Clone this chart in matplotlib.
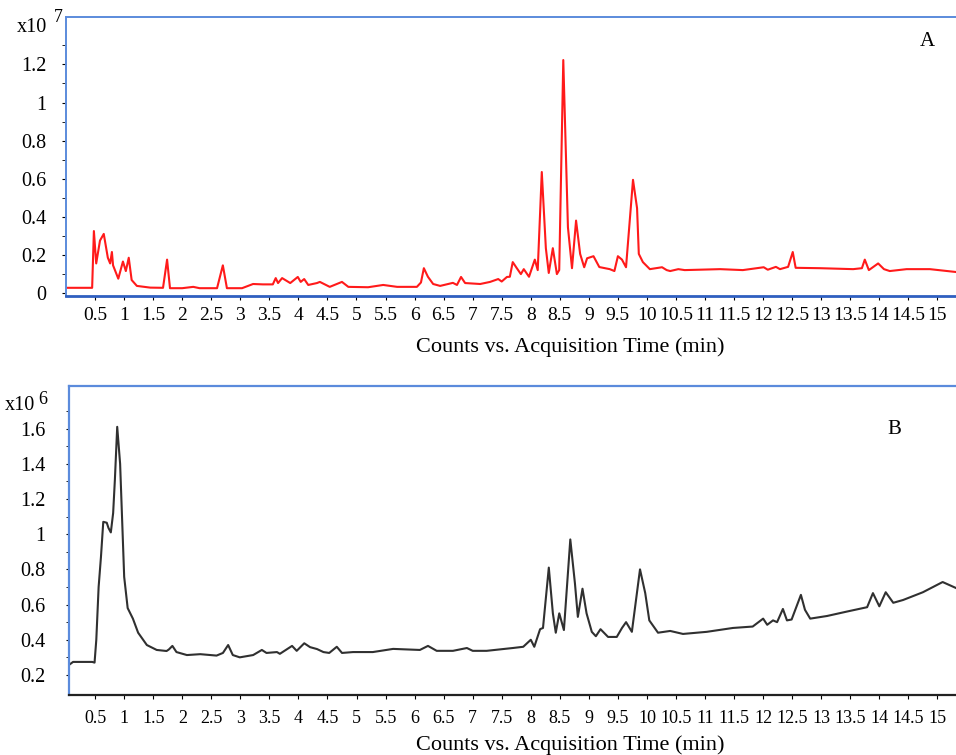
import matplotlib.pyplot as plt
import matplotlib.ticker as mticker
import numpy as np

plt.rcParams['font.family'] = ['Liberation Serif', 'DejaVu Serif']

# trace A (counts x10^7)
time_a = [0.02, 0.45, 0.48, 0.52, 0.585, 0.65, 0.72, 0.76, 0.79, 0.81, 0.90, 0.98, 1.03, 1.08, 1.13, 1.22,
          1.45, 1.67, 1.74, 1.79, 2.0, 2.19, 2.30, 2.6, 2.70, 2.77, 3.03, 3.22, 3.39, 3.56, 3.61, 3.65,
          3.72, 3.86, 3.99, 4.04, 4.10, 4.17, 4.32, 4.37, 4.54, 4.75, 4.86, 5.2, 5.46, 5.7, 6.04, 6.11,
          6.16, 6.23, 6.32, 6.44, 6.66, 6.73, 6.80, 6.87, 7.13, 7.30, 7.44, 7.50, 7.59, 7.64, 7.69, 7.76,
          7.83, 7.88, 7.97, 8.07, 8.12, 8.19, 8.26, 8.31, 8.38, 8.45, 8.49, 8.56, 8.64, 8.71, 8.78, 8.85,
          8.92, 8.97, 9.08, 9.18, 9.36, 9.44, 9.50, 9.57, 9.64, 9.76, 9.83, 9.86, 9.93, 10.05, 10.26, 10.34,
          10.40, 10.54, 10.65, 11.26, 11.65, 12.01, 12.08, 12.22, 12.29, 12.43, 12.51, 12.56, 12.98, 13.55,
          13.70, 13.75, 13.82, 13.98, 14.08, 14.18, 14.47, 14.87, 15.32]
counts_a = [0.027, 0.027, 0.325, 0.155, 0.275, 0.31, 0.185, 0.155, 0.215, 0.145, 0.075, 0.165, 0.115, 0.185, 0.068, 0.037,
            0.028, 0.027, 0.175, 0.025, 0.025, 0.032, 0.025, 0.025, 0.145, 0.025, 0.025, 0.047, 0.045, 0.045, 0.078, 0.052,
            0.078, 0.052, 0.084, 0.058, 0.073, 0.042, 0.052, 0.058, 0.032, 0.058, 0.032, 0.030, 0.042, 0.032, 0.032, 0.055,
            0.13, 0.085, 0.047, 0.037, 0.053, 0.042, 0.084, 0.052, 0.047, 0.058, 0.073, 0.060, 0.084, 0.085, 0.162, 0.13,
            0.099, 0.125, 0.085, 0.175, 0.12, 0.635, 0.235, 0.105, 0.235, 0.099, 0.12, 1.223, 0.345, 0.13, 0.38, 0.205,
            0.135, 0.182, 0.193, 0.136, 0.125, 0.115, 0.193, 0.175, 0.135, 0.594, 0.445, 0.205, 0.162, 0.125, 0.135, 0.12,
            0.115, 0.125, 0.12, 0.125, 0.12, 0.135, 0.122, 0.137, 0.125, 0.137, 0.215, 0.132, 0.13, 0.125,
            0.13, 0.175, 0.12, 0.155, 0.125, 0.115, 0.125, 0.125, 0.11]

# trace B (counts x10^6)
time_b = [0.05, 0.12, 0.45, 0.49, 0.52, 0.56, 0.60, 0.64, 0.70, 0.73, 0.77, 0.81, 0.84, 0.88, 0.93, 1.0,
          1.06, 1.15, 1.24, 1.39, 1.56, 1.73, 1.77, 1.83, 1.90, 2.08, 2.31, 2.59, 2.70, 2.79, 2.87, 2.99,
          3.22, 3.37, 3.45, 3.63, 3.68, 3.89, 3.97, 4.10, 4.20, 4.32, 4.43, 4.53, 4.66, 4.75, 4.94, 5.28,
          5.63, 6.09, 6.23, 6.38, 6.66, 6.90, 7.0, 7.24, 7.52, 7.69, 7.87, 8.0, 8.06, 8.16, 8.21, 8.31,
          8.38, 8.43, 8.49, 8.57, 8.68, 8.76, 8.81, 8.89, 8.96, 9.05, 9.12, 9.2, 9.33, 9.48, 9.57, 9.64,
          9.74, 9.88, 9.97, 10.04, 10.19, 10.40, 10.62, 11.03, 11.48, 11.82, 12.0, 12.07, 12.17, 12.24, 12.34, 12.41,
          12.49, 12.65, 12.72, 12.81, 13.1, 13.44, 13.72, 13.79, 13.89, 14.0, 14.11, 14.24, 14.41, 14.75, 15.09, 15.32]
counts_b = [0.257, 0.274, 0.274, 0.27, 0.40, 0.70, 0.87, 1.07, 1.065, 1.035, 1.01, 1.12, 1.31, 1.61, 1.40, 0.757,
            0.58, 0.52, 0.44, 0.37, 0.342, 0.336, 0.345, 0.365, 0.33, 0.313, 0.318, 0.31, 0.325, 0.37, 0.313, 0.30,
            0.313, 0.342, 0.325, 0.33, 0.32, 0.365, 0.337, 0.38, 0.358, 0.347, 0.33, 0.325, 0.36, 0.325, 0.33, 0.33,
            0.348, 0.342, 0.365, 0.337, 0.337, 0.353, 0.337, 0.337, 0.347, 0.353, 0.36, 0.40, 0.36, 0.46, 0.467, 0.81,
            0.55, 0.44, 0.55, 0.455, 0.97, 0.72, 0.53, 0.69, 0.55, 0.445, 0.42, 0.46, 0.416, 0.416, 0.467, 0.50,
            0.445, 0.80, 0.665, 0.51, 0.44, 0.45, 0.433, 0.445, 0.467, 0.475, 0.52, 0.485, 0.51, 0.50, 0.575, 0.51,
            0.515, 0.655, 0.57, 0.52, 0.535, 0.56, 0.58, 0.585, 0.665, 0.59, 0.67, 0.61, 0.626, 0.67, 0.728, 0.694]

x_ticks = np.arange(0.5, 15.01, 0.5)

fig = plt.figure(figsize=(9.56, 7.55), dpi=100)

# ---- panel A ----
ax1 = fig.add_axes([66/956, 1-296/755, 890/956, 279/755])
ax1.plot(time_a, counts_a, color='#ff1a1a', lw=1.5)
ax1.set_xlim(0, 15.32)
ax1.set_ylim(-0.016, 1.449)
ax1.set_xticks(x_ticks)
ax1.set_yticks(np.arange(0, 1.21, 0.2))
ax1.set_yticks(np.arange(0.1, 1.31, 0.2), minor=True)
ax1.xaxis.set_major_formatter(mticker.FormatStrFormatter('%g'))
ax1.yaxis.set_major_formatter(mticker.FormatStrFormatter('%g'))
ax1.tick_params(axis='x', labelsize=14, length=3, pad=5, color='black')
ax1.tick_params(axis='y', labelsize=14.5, length=3, pad=11, color='black')
ax1.tick_params(axis='y', which='minor', length=3, color='black')
for s in ['top', 'left']:
    ax1.spines[s].set_color('#5b8bdc')
    ax1.spines[s].set_linewidth(1.4)
ax1.spines['bottom'].set_color('#2f5fc0')
ax1.spines['bottom'].set_linewidth(2)
ax1.spines['right'].set_visible(False)
fig.text(570/956, 1-347/755, 'Counts vs. Acquisition Time (min)', ha='center', va='center', fontsize=16)
fig.text(32/956, 1-28/755, 'x10', ha='center', va='center', fontsize=14.5)
fig.text(58/956, 1-18/755, '7', ha='center', va='center', fontsize=13)
fig.text(927/956, 1-42/755, 'A', ha='center', va='center', fontsize=15)

# ---- panel B ----
ax2 = fig.add_axes([69/956, 1-695/755, 887/956, 309/755])
ax2.plot(time_b, counts_b, color='#303030', lw=1.5)
ax2.set_xlim(0.05, 15.32)
ax2.set_ylim(0.086, 1.842)
ax2.set_xticks(x_ticks)
ax2.set_yticks(np.arange(0.2, 1.61, 0.2))
ax2.set_yticks(np.arange(0.3, 1.71, 0.2), minor=True)
ax2.xaxis.set_major_formatter(mticker.FormatStrFormatter('%g'))
ax2.yaxis.set_major_formatter(mticker.FormatStrFormatter('%g'))
ax2.tick_params(axis='x', labelsize=13, length=3, pad=8, color='black')
ax2.tick_params(axis='y', labelsize=14.5, length=2, pad=15, color='black')
ax2.tick_params(axis='y', which='minor', length=2, color='black')
for s in ['top', 'left']:
    ax2.spines[s].set_color('#5b8bdc')
    ax2.spines[s].set_linewidth(1.6)
ax2.spines['bottom'].set_color('#222222')
ax2.spines['bottom'].set_linewidth(1.6)
ax2.spines['right'].set_visible(False)
fig.text(570/956, 1-745/755, 'Counts vs. Acquisition Time (min)', ha='center', va='center', fontsize=16)
fig.text(20/956, 1-405/755, 'x10', ha='center', va='center', fontsize=14.5)
fig.text(43/956, 1-399/755, '6', ha='center', va='center', fontsize=13)
fig.text(894/956, 1-430/755, 'B', ha='center', va='center', fontsize=15)

plt.savefig('out.png', dpi=100)
